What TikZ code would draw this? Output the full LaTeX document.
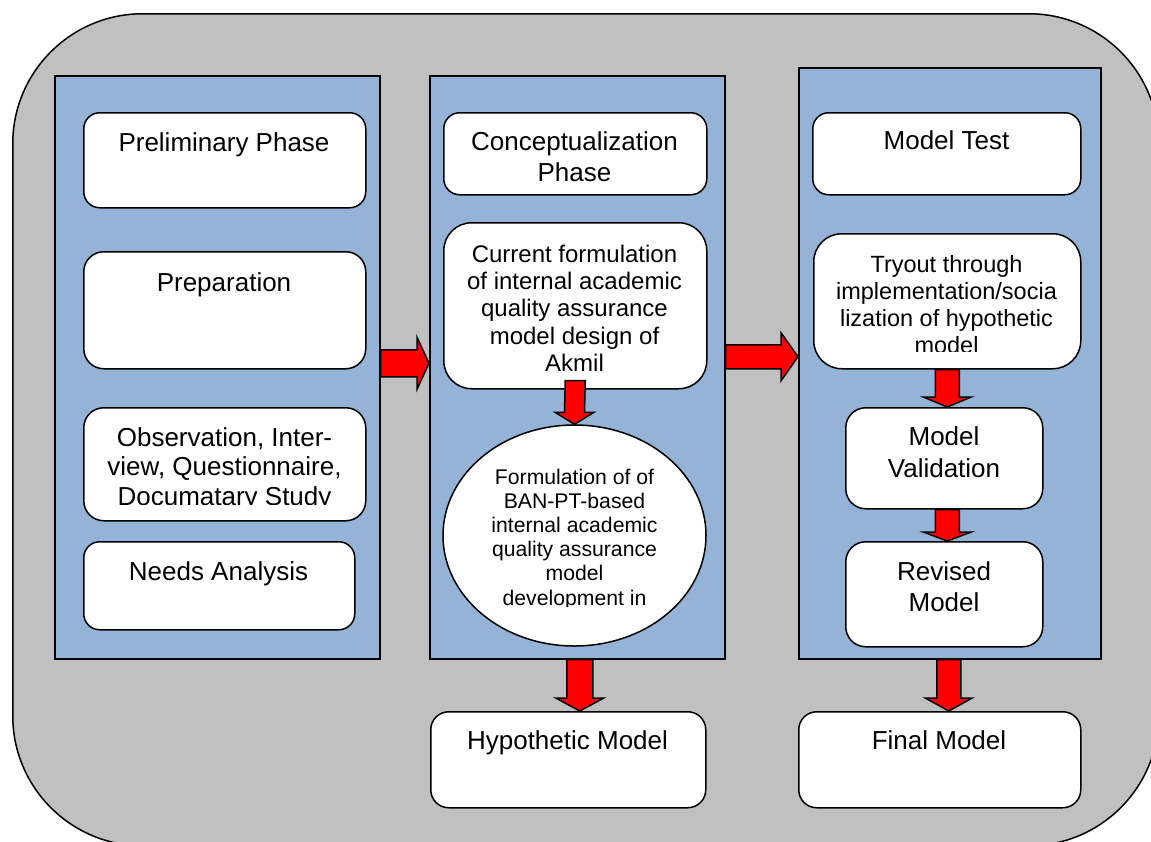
\documentclass[tikz,border=0pt]{standalone}
\usepackage{fontspec}
\setmainfont{Liberation Sans}
\usetikzlibrary{calc,shapes.geometric}
\definecolor{bggray}{RGB}{192,192,192}
\definecolor{panelblue}{RGB}{149,179,215}
\newcommand\myfs[2]{\fontsize{#1}{#2}\selectfont}
% down block arrow: #1 start, #2 tip, #3 shaft half width, #4 head half width, #5 head length
\newcommand\fatdown[5]{%
  \draw[fat] ($#1+(-#3,0)$) -- ($#2+(-#3,-#5)$) -- ($#2+(-#4,-#5)$) -- #2
    -- ($#2+(#4,-#5)$) -- ($#2+(#3,-#5)$) -- ($#1+(#3,0)$) -- cycle;}
% right block arrow
\newcommand\fatright[5]{%
  \draw[fat] ($#1+(0,-#3)$) -- ($#2+(-#5,-#3)$) -- ($#2+(-#5,-#4)$) -- #2
    -- ($#2+(-#5,#4)$) -- ($#2+(-#5,#3)$) -- ($#1+(0,#3)$) -- cycle;}
\begin{document}
\begin{tikzpicture}[x=1pt,y=-1pt,
  outerbox/.style={draw=black, fill=bggray, line width=1.5pt, rounded corners=130pt,
    rectangle, inner sep=0pt, anchor=north west},
  panel/.style={draw=black, fill=panelblue, line width=1.5pt, rectangle, inner sep=0pt, anchor=north west},
  box/.style={draw=black, fill=white, line width=1.5pt, rounded corners=#1, rectangle,
    inner sep=0pt, anchor=north west},
  box/.default=16pt,
  oval/.style={draw=black, fill=white, line width=1.5pt, ellipse, inner sep=0pt},
  fat/.style={draw=black, fill=red, line width=1.5pt, line join=miter},
  txt/.style={anchor=base, align=center, inner sep=0pt, font=\myfs{26}{30.5}}
]
\useasboundingbox (0,0) rectangle (1151,841);
\node[outerbox, minimum width=1146pt, minimum height=832pt] (outer) at (12,13) {};

% panels
\node[panel, minimum width=325pt, minimum height=583pt] (p1) at (54,75) {};
\node[panel, minimum width=295pt, minimum height=583pt] (p2) at (429,75) {};
\node[panel, minimum width=302pt, minimum height=591pt] (p3) at (798,67) {};

% boxes panel 1
\node[box, minimum width=282pt, minimum height=95pt] (prelim) at (83,112) {};
\node[box=20pt, minimum width=282pt, minimum height=117pt] (prep) at (83,251) {};
\node[box=20pt, minimum width=282pt, minimum height=113pt] (obs) at (83,407) {};
\node[box, minimum width=271pt, minimum height=88pt] (need) at (83,541) {};

% boxes panel 2
\node[box, minimum width=263pt, minimum height=82pt] (conc) at (443,112) {};
\node[box=28pt, minimum width=263pt, minimum height=166pt] (cur) at (443,222) {};
\node[oval, minimum width=263pt, minimum height=221pt] (ell) at (574.5,535.5) {};

% boxes panel 3
\node[box, minimum width=268pt, minimum height=82pt] (test) at (812,112) {};
\node[box=28pt, minimum width=267pt, minimum height=135pt] (try) at (813,233) {};
\node[box=20pt, minimum width=197pt, minimum height=101pt] (val) at (845,407) {};
\node[box=20pt, minimum width=197pt, minimum height=105pt] (rev) at (845,541) {};

% bottom boxes
\node[box=18pt, minimum width=275pt, minimum height=96pt] (hyp) at (430,711) {};
\node[box=18pt, minimum width=282pt, minimum height=96pt] (fin) at (798,711) {};

% arrow end points
\coordinate (a1s) at ($(p1.east)+(0,-4)$);
\coordinate (a1t) at ($(p2.west)+(0,-4)$);
\coordinate (a2s) at ($(p2.east)+(0,-10.5)$);
\coordinate (a2t) at ($(p3.west)+(0,-6.5)$);
\coordinate (a3s) at ($(cur.south)+(0,-9)$);
\coordinate (a3t) at (ell.north);
\coordinate (a4s) at ($(p2.south)+(2.5,0)$);
\coordinate (a4t) at (a4s |- hyp.north);
\coordinate (a5s) at ($(p3.south)+(-1,0)$);
\coordinate (a5t) at (a5s |- fin.north);
\coordinate (a6s) at (try.south);
\coordinate (a6t) at (try.south |- val.north);
\coordinate (a7s) at (try.south |- val.south);
\coordinate (a7t) at (try.south |- rev.north);

% block arrows
\fatright{(a1s)}{(a1t)}{13.5}{26}{12}
\fatright{(a2s)}{(a2t)}{12}{24}{17}
\fatdown{(a3s)}{(a3t)}{10}{19.5}{12}
\fatdown{(a4s)}{(a4t)}{13}{24}{13}
\fatdown{(a5s)}{(a5t)}{12}{23.5}{13}
\fatdown{(a6s)}{(a6t)}{12}{24}{10}
\fatdown{(a7s)}{(a7t)}{12}{24}{9}

% texts (anchor base = baseline of the last line)
\node[txt] (prelimT) at (224,151) {Preliminary Phase};
\node[txt] (prepT) at (224,291) {Preparation};
\begin{scope}
  \clip (83,410) rectangle (365,504);
  \node[txt, font=\myfs{26}{29.5}] (obsT) at (224.5,505) {Observation, Inter-\\view, Questionnaire,\\Documatary Study};
\end{scope}
\node[txt] (needT) at (218.5,580) {Needs Analysis};

\node[txt, font=\myfs{26}{31}] (concT) at (574.5,181) {Conceptualization\\Phase};
\node[txt, font=\myfs{24}{27.4}] (curT) at (574.5,371.6) {Current formulation\\of internal academic\\quality assurance\\model design of\\Akmil};
\begin{scope}
  \clip (443,440) rectangle (706,606);
  \node[txt, font=\myfs{21.2}{24.2}] (ellT) at (574.5,605) {Formulation of of\\BAN-PT-based\\internal academic\\quality assurance\\model\\development in};
\end{scope}

\node[txt] (testT) at (946.5,149) {Model Test};
\begin{scope}
  \clip (813,240) rectangle (1080,351.5);
  \node[txt, font=\myfs{23.5}{27}] (tryT) at (946.5,353) {Tryout through\\implementation/socia\\lization of hypothetic\\model};
\end{scope}
\node[txt, font=\myfs{26}{32}] (valT) at (944,477) {Model\\Validation};
\node[txt, font=\myfs{26}{31}] (revT) at (944,611) {Revised\\Model};

\node[txt] (hypT) at (567.5,749) {Hypothetic Model};
\node[txt] (finT) at (939,749) {Final Model};
\end{tikzpicture}
\end{document}
